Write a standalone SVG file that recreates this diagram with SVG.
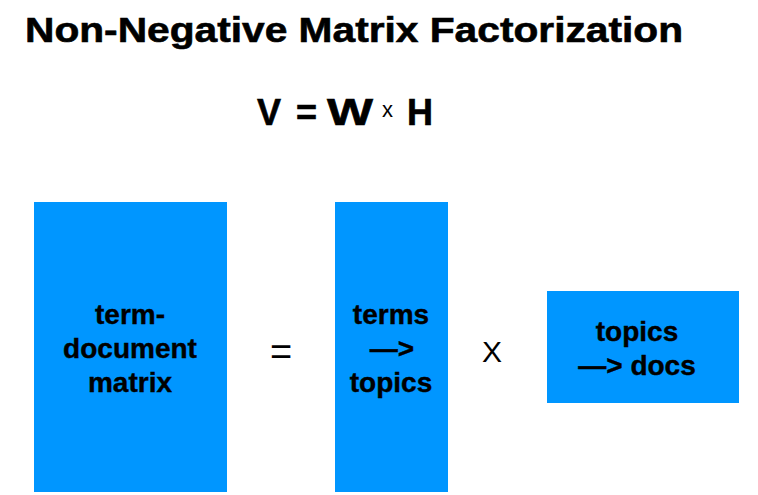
<svg xmlns="http://www.w3.org/2000/svg" width="758" height="495" viewBox="0 0 758 495">
<style>
.t{font-family:"Liberation Sans",Arial,sans-serif;fill:#000}
.b{font-weight:bold;stroke:#000;stroke-width:0.6}
.lbl{font-family:"Liberation Sans",Arial,sans-serif;font-weight:bold;font-size:28px;text-anchor:middle;fill:#000;stroke:#000;stroke-width:0.4}
.box{fill:#0096ff}
</style>
<rect width="758" height="495" fill="#fff"/>
<text class="t b" x="25" y="42" font-size="35" textLength="658" lengthAdjust="spacingAndGlyphs">Non-Negative Matrix Factorization</text>
<g id="equation">
<text class="t b" x="257" y="125" font-size="36">V</text>
<text class="t b" x="296" y="125" font-size="36">=</text>
<text class="t b" x="327" y="125" font-size="36" textLength="46" lengthAdjust="spacingAndGlyphs">W</text>
<text class="t" x="382" y="117" font-size="22">x</text>
<text class="t b" x="407" y="125" font-size="36">H</text>
</g>
<g id="v">
<rect class="box" x="34" y="202" width="193" height="290"/>
<text class="lbl"><tspan x="130" y="324">term-</tspan><tspan x="130" y="358">document</tspan><tspan x="130" y="392">matrix</tspan></text>
</g>
<g id="equals">
<text class="t" x="281" y="365" font-size="38" text-anchor="middle">=</text>
</g>
<g id="w">
<rect class="box" x="335" y="202" width="113" height="290"/>
<text class="lbl"><tspan x="391" y="324">terms</tspan><tspan x="392" y="358">—&gt;</tspan><tspan x="391" y="392">topics</tspan></text>
</g>
<g id="times">
<text class="t" x="492" y="362" font-size="30" text-anchor="middle">X</text>
</g>
<g id="h">
<rect class="box" x="547" y="291" width="192" height="112"/>
<text class="lbl"><tspan x="637" y="341">topics</tspan><tspan x="637" y="375">—&gt; docs</tspan></text>
</g>
<g id="connectors"/>
</svg>
